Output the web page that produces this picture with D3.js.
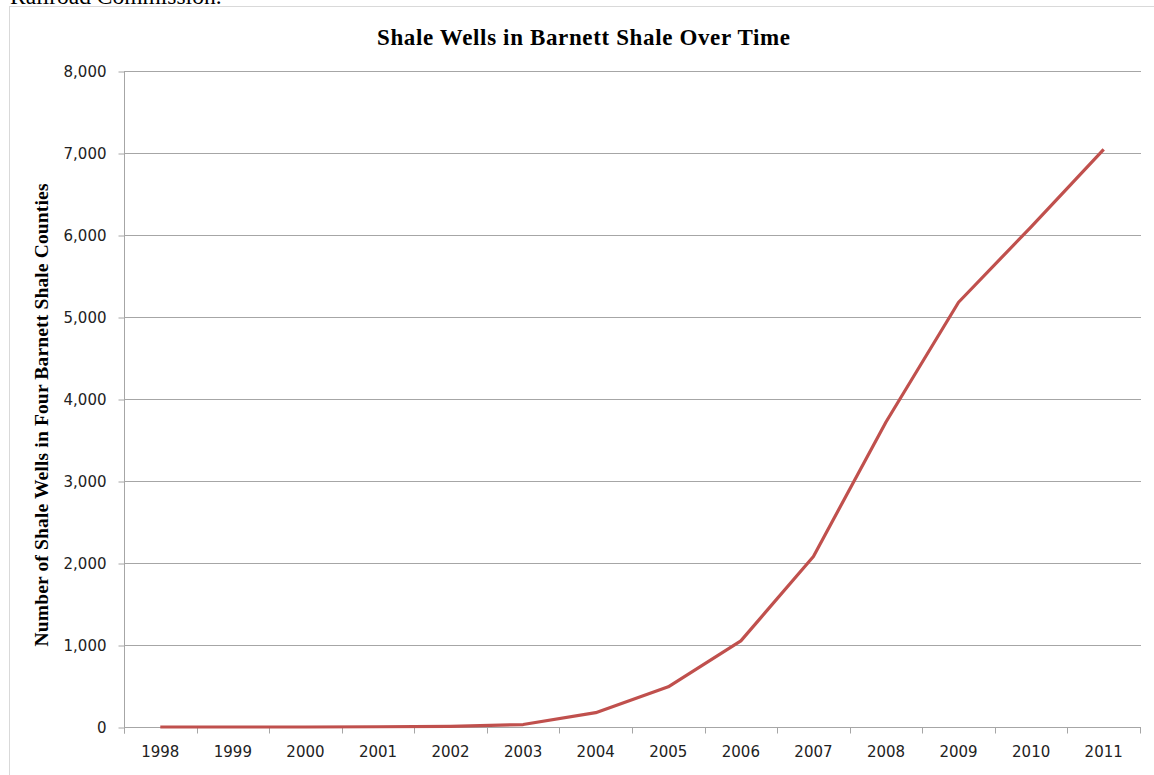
<!DOCTYPE html>
<html>
<head>
<meta charset="utf-8">
<script src="https://cdn.jsdelivr.net/npm/d3@7"></script>
<style>
  html, body { margin: 0; padding: 0; background: #fff; overflow: hidden; }
  svg { display: block; }
</style>
</head>
<body>
<svg id="chart" width="1154" height="775"></svg>
<script>
// Barnett Shale well counts by year
const years = ["1998", "1999", "2000", "2001", "2002", "2003", "2004",
               "2005", "2006", "2007", "2008", "2009", "2010", "2011"];
const wells = [0, 0, 0, 3, 8, 30, 175, 490, 1050, 2080, 3720, 5180, 6100, 7045];
const yTicks = [0, 1000, 2000, 3000, 4000, 5000, 6000, 7000, 8000];

const svg = d3.select("#chart");
const plot = { left: 124, right: 1140, top: 71, bottom: 727 };
const gridColor = "#a6a6a6";

// Caption line from the surrounding document, cut off at the top
svg.append("text")
  .attr("x", 10).attr("y", 4)
  .attr("font-family", "'Liberation Serif', 'Times New Roman', serif")
  .attr("font-size", 23.5)
  .attr("fill", "#000")
  .text("Railroad Commission.");

// Chart frame
svg.append("rect")
  .attr("x", 9.5).attr("y", 6.5)
  .attr("width", 1300).attr("height", 900)
  .attr("fill", "#fff")
  .attr("stroke", "#d9d9d9")
  .attr("stroke-width", 1);

const x = d3.scaleBand().domain(years).range([plot.left, plot.right]);
const y = d3.scaleLinear().domain([0, 8000]).range([plot.bottom, plot.top]);

// Horizontal gridlines
svg.append("g")
  .selectAll("line")
  .data(yTicks.filter(d => d > 0))
  .join("line")
  .attr("x1", plot.left).attr("x2", plot.right + 1)
  .attr("y1", d => Math.round(y(d)) + 0.5)
  .attr("y2", d => Math.round(y(d)) + 0.5)
  .attr("stroke", gridColor)
  .attr("stroke-width", 1);

// Y axis
const yAxis = svg.append("g")
  .attr("transform", `translate(${plot.left + 0.5},0.5)`)
  .call(d3.axisLeft(y).tickValues(yTicks).tickFormat(d3.format(",")).tickSize(6).tickSizeOuter(0).tickPadding(12));
yAxis.select(".domain").attr("stroke", gridColor)
  .attr("d", `M0,${plot.top}V${plot.bottom + 6}`);
yAxis.selectAll(".tick line").attr("stroke", gridColor);
yAxis.selectAll(".tick text")
  .attr("font-family", "'DejaVu Sans', sans-serif")
  .attr("font-size", 15)
  .attr("fill", "#222");

// X axis: labels centred in each category, ticks on the category boundaries
const xAxis = svg.append("g")
  .attr("transform", `translate(0,${plot.bottom + 0.5})`)
  .call(d3.axisBottom(x).tickSize(0).tickSizeOuter(0).tickPadding(19));
xAxis.select(".domain").attr("stroke", gridColor)
  .attr("d", `M${plot.left},0H${plot.right + 1}`);
xAxis.selectAll(".tick text")
  .attr("font-family", "'DejaVu Sans', sans-serif")
  .attr("font-size", 15)
  .attr("fill", "#222");
const boundaries = years.map(d => x(d)).concat([x.range()[1]]);
xAxis.append("g")
  .selectAll("line")
  .data(boundaries)
  .join("line")
  .attr("x1", d => Math.round(d) + 0.5).attr("x2", d => Math.round(d) + 0.5)
  .attr("y1", 0).attr("y2", 6)
  .attr("stroke", gridColor);

// Series line
const line = d3.line()
  .x((d, i) => x(years[i]) + x.bandwidth() / 2)
  .y(d => y(d));
svg.append("path")
  .datum(wells)
  .attr("d", line)
  .attr("fill", "none")
  .attr("stroke", "#c0504d")
  .attr("stroke-width", 3.2)
  .attr("stroke-linejoin", "round");

// Title
svg.append("text")
  .attr("x", 583.5).attr("y", 45)
  .attr("text-anchor", "middle")
  .attr("font-family", "'Liberation Serif', 'Times New Roman', serif")
  .attr("font-weight", "bold")
  .attr("font-size", 23)
  .attr("textLength", 413)
  .attr("lengthAdjust", "spacing")
  .attr("fill", "#000")
  .text("Shale Wells in Barnett Shale Over Time");

// Y axis title
svg.append("text")
  .attr("transform", "translate(48,415) rotate(-90)")
  .attr("text-anchor", "middle")
  .attr("font-family", "'Liberation Serif', 'Times New Roman', serif")
  .attr("font-weight", "bold")
  .attr("font-size", 19.5)
  .attr("textLength", 463)
  .attr("lengthAdjust", "spacing")
  .attr("fill", "#000")
  .text("Number of Shale Wells in Four Barnett Shale Counties");
</script>
</body>
</html>
